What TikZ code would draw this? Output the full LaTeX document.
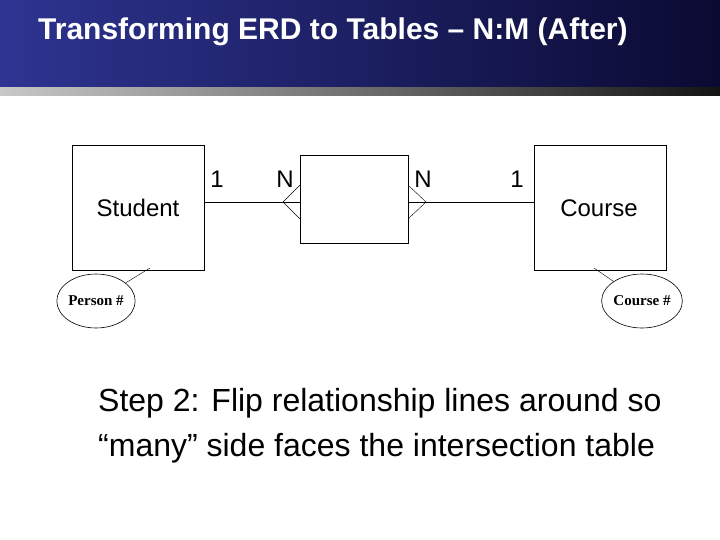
\documentclass[tikz,border=0pt]{standalone}
\usepackage{fontspec}
\usetikzlibrary{shapes.geometric}
\setmainfont{Liberation Sans}
\newfontfamily\serifx{Liberation Serif}
\begin{document}
\begin{tikzpicture}[x=1pt,y=-1pt,
  ent/.style={draw,line width=0.6pt},
  lbl/.style={font=\fontsize{24}{26}\selectfont,inner sep=0},
  attr/.style={draw,ellipse,line width=0.6pt,minimum width=70pt,minimum height=54pt,inner sep=0,font=\serifx\bfseries\fontsize{15}{16}\selectfont}]
\useasboundingbox (0,0) rectangle (720,540);
\fill[white] (0,0) rectangle (720,540);
\shade[left color={rgb,255:red,46;green,52;blue,145}, right color={rgb,255:red,10;green,10;blue,50}] (0,0) rectangle (720,88);
\shade[left color={rgb,255:red,200;green,200;blue,200}, right color={rgb,255:red,20;green,20;blue,20}] (0,88) rectangle (720,96);
\node[anchor=west,inner sep=0,text=white,font=\bfseries\fontsize{30}{32}\selectfont] (title) at (38,32) {Transforming ERD to Tables – N:M (After)};
\node[ent,minimum width=132pt,minimum height=125pt,anchor=north west] (stu) at (72,145) {};
\node[ent,minimum width=108pt,minimum height=88pt,anchor=north west] (mid) at (300,155) {};
\node[ent,minimum width=132pt,minimum height=125pt,anchor=north west] (crs) at (534,145) {};
\node[lbl] (stut) at (138,208) {Student};
\node[lbl] (crst) at (599,208) {Course};
\coordinate (a1) at (204,202); \coordinate (a2) at (300,202);
\coordinate (b1) at (408,202); \coordinate (b2) at (534,202);
\draw[line width=0.5pt] (a1) -- (a2);
\draw[line width=0.5pt] (b1) -- (b2);
\draw[line width=0.4pt] (300,185) -- (283,202) -- (300,219);
\draw[line width=0.4pt] (408,185) -- (426,202) -- (408,219);
\node[lbl] (l1) at (217,179) {1};
\node[lbl] (l2) at (285,179) {N};
\node[lbl] (l3) at (423,179) {N};
\node[lbl] (l4) at (517,179) {1};
\node[attr] (pn) at (96,301) {Person \#};
\node[attr] (cn) at (642,301) {Course \#};
\coordinate (s1) at (150,268); \coordinate (c1) at (594,268);
\draw[line width=0.4pt] (s1) -- (pn);
\draw[line width=0.4pt] (c1) -- (cn);
\node[anchor=west,inner sep=0,font=\fontsize{32}{34}\selectfont] (t1) at (98,403) {Step 2: Flip relationship lines around so};
\node[anchor=west,inner sep=0,font=\fontsize{32}{34}\selectfont] (t2) at (98,448) {“many” side faces the intersection table};
\end{tikzpicture}
\end{document}
